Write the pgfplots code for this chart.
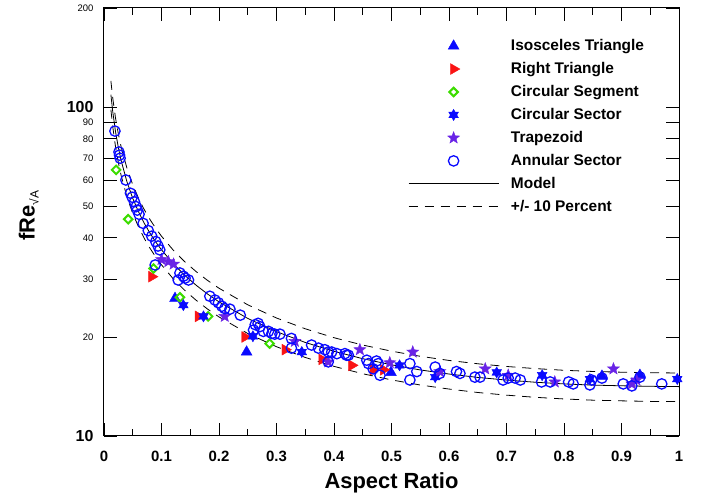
\documentclass[border=0pt]{standalone}
\usepackage{pgfplots}
\pgfplotsset{compat=1.18}
\usepackage{fontspec}
\setmainfont{Liberation Sans}
\definecolor{mblue}{RGB}{10,10,255}
\definecolor{mred}{RGB}{250,20,20}
\definecolor{mgreen}{RGB}{60,220,0}
\definecolor{mpurple}{RGB}{105,35,230}
\pgfdeclareplotmark{hexstar}{%
  \pgfpathmoveto{\pgfqpointpolar{90}{\pgfplotmarksize}}%
  \pgfpathlineto{\pgfqpointpolar{210}{\pgfplotmarksize}}%
  \pgfpathlineto{\pgfqpointpolar{330}{\pgfplotmarksize}}%
  \pgfpathclose
  \pgfpathmoveto{\pgfqpointpolar{270}{\pgfplotmarksize}}%
  \pgfpathlineto{\pgfqpointpolar{30}{\pgfplotmarksize}}%
  \pgfpathlineto{\pgfqpointpolar{150}{\pgfplotmarksize}}%
  \pgfpathclose
  \pgfusepathqfillstroke}
\pgfdeclareplotmark{fstar}{%
  \pgfpathmoveto{\pgfqpointpolar{90}{\pgfplotmarksize}}%
  \pgfpathlineto{\pgfqpointpolar{126}{0.42\pgfplotmarksize}}%
  \pgfpathlineto{\pgfqpointpolar{162}{\pgfplotmarksize}}%
  \pgfpathlineto{\pgfqpointpolar{198}{0.42\pgfplotmarksize}}%
  \pgfpathlineto{\pgfqpointpolar{234}{\pgfplotmarksize}}%
  \pgfpathlineto{\pgfqpointpolar{270}{0.42\pgfplotmarksize}}%
  \pgfpathlineto{\pgfqpointpolar{306}{\pgfplotmarksize}}%
  \pgfpathlineto{\pgfqpointpolar{342}{0.42\pgfplotmarksize}}%
  \pgfpathlineto{\pgfqpointpolar{18}{\pgfplotmarksize}}%
  \pgfpathlineto{\pgfqpointpolar{54}{0.42\pgfplotmarksize}}%
  \pgfpathclose
  \pgfusepathqfillstroke}
\pgfplotsset{
  mlegend/.style={legend image code/.code={%
    \path[draw=none, fill=none] (0bp,0bp) -- (90bp,0bp);
    \draw[##1, only marks] plot coordinates {(45bp,0bp)};}},
  llegend/.style={legend image code/.code={%
    \draw[##1] (0bp,0bp) -- (90bp,0bp);}},
}
\begin{document}
\begin{tikzpicture}
\begin{axis}[
  scale only axis, width=575bp, height=428bp,
  xmin=0, xmax=1, ymin=10, ymax=200, ymode=log,
  clip=false,
  axis line style={line width=1bp},
  tick style={black, line width=0.9bp},
  tick align=inside, tick pos=both,
  major tick length=13bp, minor tick length=7bp,
  xtick={0,0.1,0.2,0.3,0.4,0.5,0.6,0.7,0.8,0.9,1},
  xticklabels={0,0.1,0.2,0.3,0.4,0.5,0.6,0.7,0.8,0.9,1},
  minor x tick num=1,
  xticklabel style={font=\fontsize{15}{16}\selectfont\bfseries, yshift=-12bp},
  ytick={10,20,30,40,50,60,70,80,90,100,200},
  yticklabels={{\fontsize{16}{16}\selectfont\bfseries 10},20,30,40,50,60,70,80,90,{\fontsize{16}{16}\selectfont\bfseries 100},200},
  yminorticks=false,
  yticklabel style={font=\fontsize{9.5}{10}\selectfont, xshift=-7bp},
  xlabel={Aspect Ratio},
  xlabel style={at={(axis description cs:0.5,-0.1086)}, anchor=center, font=\fontsize{22}{24}\selectfont\bfseries},
  ylabel={fRe\raisebox{-4bp}{\fontsize{12}{12}\selectfont\mdseries √A}},
  ylabel style={at={(axis description cs:-0.131,0.515)}, anchor=center, font=\fontsize{22}{24}\selectfont\bfseries},
  legend style={at={(rel axis cs:0.5287,0.931)}, anchor=north west, draw=none, fill=none,
    inner sep=0pt, font=\fontsize{15.5}{18}\selectfont\bfseries, row sep=6.3bp, column sep=10bp},
  legend cell align=left,
]
\coordinate (sw) at (rel axis cs:0,0);
\addplot[only marks, mark=triangle*, mark size=6.3bp, color=mblue, mlegend] coordinates {
(0.1235,26.2)(0.248,18.0)(0.499,15.6)(0.866,15.2)(0.932,15.3)};
\addlegendentry{Isosceles Triangle}
\addplot[only marks, mark=triangle*, mark size=6.3bp, color=mred, mark options={rotate=-90}, mlegend] coordinates {
(0.083,30.5)(0.164,23.1)(0.245,20.0)(0.315,18.3)(0.379,17.1)(0.431,16.4)(0.468,15.9)(0.486,15.9)};
\addlegendentry{Right Triangle}
\addplot[only marks, mark=square, mark size=3bp, color=mgreen, mark options={rotate=45, line width=2bp}, mlegend] coordinates {
(0.021,64.4)(0.042,45.6)(0.086,32.3)(0.132,26.4)(0.181,23.1)(0.288,19.1)};
\addlegendentry{Circular Segment}
\addplot[only marks, mark=hexstar, mark size=5.6bp, color=mblue, mlegend] coordinates {
(0.138,25.0)(0.173,23.1)(0.259,20.1)(0.344,18.0)(0.514,16.4)(0.576,15.1)(0.683,15.6)(0.762,15.3)(0.845,14.9)(0.997,14.9)};
\addlegendentry{Circular Sector}
\addplot[only marks, mark=fstar, mark size=6.3bp, color=mpurple, mlegend] coordinates {
(0.100,34.4)(0.112,33.9)(0.121,33.3)(0.210,23.1)(0.332,19.4)(0.390,16.8)(0.445,18.3)(0.497,16.7)(0.537,18.0)(0.584,15.7)(0.663,16.0)(0.703,15.3)(0.784,14.6)(0.886,16.0)(0.918,14.4)(0.926,14.8)};
\addlegendentry{Trapezoid}
\addplot[only marks, mark=o, mark size=5.2bp, color=mblue, mark options={line width=1.3bp}, mlegend] coordinates {
(0.019,84.5)(0.026,73.0)(0.027,71.4)(0.028,69.9)(0.038,60.0)(0.046,54.7)(0.049,53.2)(0.053,51.5)(0.056,49.8)(0.058,48.6)(0.061,47.2)(0.068,44.3)(0.077,42.1)(0.083,40.5)(0.090,39.0)(0.094,37.8)(0.097,36.8)(0.089,33.1)(0.132,31.3)(0.138,30.6)(0.141,30.2)(0.147,29.8)(0.129,29.8)(0.184,26.6)(0.193,25.9)(0.199,25.4)(0.205,24.8)(0.210,24.4)(0.219,24.3)(0.237,23.3)(0.260,21.0)(0.263,21.8)(0.268,22.0)(0.271,21.5)(0.277,20.8)(0.286,20.8)(0.292,20.5)(0.297,20.4)(0.306,20.4)(0.326,19.8)(0.326,18.5)(0.361,18.9)(0.373,18.5)(0.384,18.3)(0.390,18.0)(0.396,18.0)(0.405,17.8)(0.422,17.6)(0.390,16.8)(0.419,17.8)(0.425,17.6)(0.457,17.0)(0.460,16.6)(0.474,16.9)(0.477,16.6)(0.468,16.0)(0.480,15.3)(0.532,16.6)(0.544,15.7)(0.532,14.8)(0.576,16.2)(0.584,15.5)(0.613,15.7)(0.619,15.5)(0.645,15.1)(0.654,15.1)(0.694,14.8)(0.703,15.0)(0.715,15.0)(0.724,14.8)(0.761,14.6)(0.776,14.6)(0.808,14.6)(0.816,14.4)(0.845,14.3)(0.848,14.8)(0.866,15.0)(0.903,14.4)(0.918,14.2)(0.932,15.1)(0.970,14.4)};
\addlegendentry{Annular Sector}
\addplot[black, line width=0.8bp, llegend] coordinates {
(0.012,109.1)(0.015,97.45)(0.02,84.25)(0.025,75.23)(0.03,68.55)(0.04,59.18)(0.05,52.77)(0.06,48.03)(0.07,44.33)(0.08,41.36)(0.09,38.89)(0.1,36.81)(0.12,33.45)(0.14,30.84)(0.16,28.75)(0.18,27.02)(0.2,25.57)(0.25,22.77)(0.3,20.76)(0.35,19.25)(0.4,18.09)(0.45,17.18)(0.5,16.46)(0.55,15.88)(0.6,15.43)(0.65,15.07)(0.7,14.79)(0.75,14.57)(0.8,14.40)(0.85,14.28)(0.9,14.21)(0.95,14.16)(1.0,14.13)};
\addlegendentry{Model}
\addplot[black, line width=0.8bp, dash pattern=on 9bp off 7bp, llegend] coordinates {
(0.012,120.0)(0.015,107.2)(0.02,92.68)(0.025,82.75)(0.03,75.41)(0.04,65.10)(0.05,58.05)(0.06,52.83)(0.07,48.76)(0.08,45.50)(0.09,42.78)(0.1,40.49)(0.12,36.80)(0.14,33.92)(0.16,31.63)(0.18,29.72)(0.2,28.13)(0.25,25.05)(0.3,22.84)(0.35,21.18)(0.4,19.90)(0.45,18.90)(0.5,18.11)(0.55,17.47)(0.6,16.97)(0.65,16.58)(0.7,16.27)(0.75,16.03)(0.8,15.84)(0.85,15.71)(0.9,15.63)(0.95,15.58)(1.0,15.54)};
\addlegendentry{+/- 10 Percent}
\addplot[black, line width=0.8bp, dash pattern=on 9bp off 7bp, forget plot] coordinates {
(0.012,98.2)(0.015,87.7)(0.02,75.83)(0.025,67.71)(0.03,61.70)(0.04,53.26)(0.05,47.49)(0.06,43.23)(0.07,39.90)(0.08,37.22)(0.09,35.00)(0.1,33.13)(0.12,30.11)(0.14,27.76)(0.16,25.88)(0.18,24.32)(0.2,23.01)(0.25,20.49)(0.3,18.68)(0.35,17.33)(0.4,16.28)(0.45,15.46)(0.5,14.81)(0.55,14.29)(0.6,13.89)(0.65,13.56)(0.7,13.31)(0.75,13.11)(0.8,12.96)(0.85,12.85)(0.9,12.79)(0.95,12.74)(1.0,12.72)};
\end{axis}
\pgfresetboundingbox
\path (sw) ++(-104bp,-63bp) rectangle ++(702bp,499bp);
\end{tikzpicture}
\end{document}
